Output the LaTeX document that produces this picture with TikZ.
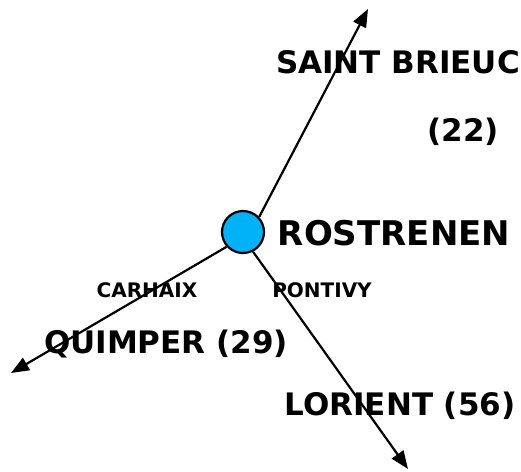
\documentclass[tikz,border=0pt]{standalone}
\usepackage{fontspec}
\setmainfont{DejaVu Sans}
\usetikzlibrary{arrows.meta}
\definecolor{townblue}{RGB}{0,178,245}
\tikzset{
  road/.style={line width=2.2pt, -{Triangle[length=18pt,width=14pt]}},
  town/.style={circle, draw=black, line width=2.2pt, fill=townblue, minimum size=42pt, inner sep=0pt},
  lbl/.style={anchor=base, inner sep=0pt, font=\bfseries},
}
\begin{document}
\begin{tikzpicture}[x=1pt,y=-1pt]
\useasboundingbox (0,0) rectangle (521,471);
\coordinate (tipN) at (368,9);
\coordinate (tipW) at (11,373);
\coordinate (tipS) at (408,469);
\node[town] (c) at (243,232) {};
\draw[road] (c.43) -- (tipN);
\draw[road] (c.222) -- (tipW);
\draw[road] (c.297) -- (tipS);
\node[lbl, font=\bfseries\fontsize{31}{31}\selectfont] (sb) at (398,73) {SAINT BRIEUC};
\node[lbl, font=\bfseries\fontsize{31}{31}\selectfont] (d22) at (463,141) {(22)};
\node[lbl, font=\bfseries\fontsize{34}{34}\selectfont] (ros) at (394,245) {ROSTRENEN};
\node[lbl, font=\bfseries\fontsize{20}{20}\selectfont] (car) at (147,297) {CARHAIX};
\node[lbl, font=\bfseries\fontsize{20}{20}\selectfont] (pon) at (322,297) {PONTIVY};
\node[lbl, font=\bfseries\fontsize{31}{31}\selectfont] (qui) at (166,353) {QUIMPER (29)};
\node[lbl, font=\bfseries\fontsize{31}{31}\selectfont] (lor) at (400,415) {LORIENT (56)};
\end{tikzpicture}
\end{document}
